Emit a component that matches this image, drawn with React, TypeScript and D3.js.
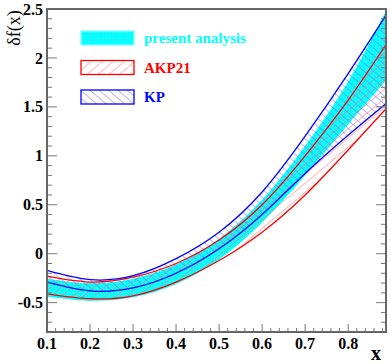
import * as d3 from "d3";

// sampled x positions
const xs = [0.1, 0.2, 0.3, 0.4, 0.5, 0.6, 0.7, 0.8, 0.89];

// present analysis band
const presentUp = [-0.255, -0.3, -0.255, -0.11, 0.15, 0.55, 1.1, 1.76, 2.5];
const presentLo = [-0.44, -0.48, -0.445, -0.31, -0.06, 0.32, 0.8, 1.32, 1.78];

// AKP21 band
const akpUp = [-0.23, -0.29, -0.24, -0.1, 0.14, 0.5, 1.0, 1.57, 2.15];
const akpLo = [-0.41, -0.46, -0.43, -0.29, -0.07, 0.22, 0.6, 1.06, 1.49];

// KP band
const kpUp = [-0.17, -0.265, -0.225, -0.05, 0.22, 0.63, 1.2, 1.84, 2.45];
const kpLo = [-0.29, -0.38, -0.35, -0.2, 0.05, 0.4, 0.82, 1.21, 1.54];

const xTicks = [0.1, 0.2, 0.3, 0.4, 0.5, 0.6, 0.7, 0.8];
const yTicks = [-0.5, 0, 0.5, 1, 1.5, 2, 2.5];

const legend = [
  { label: "present analysis", color: "#00ffff", fill: "url(#dots)", stroke: "#7fffff" },
  { label: "AKP21", color: "#ff0000", fill: "url(#hatchRed)", stroke: "#ff0000" },
  { label: "KP", color: "#0000ff", fill: "url(#hatchBlue)", stroke: "#0000ff" },
];

const W = 390;
const H = 364;
const left = 47;
const right = 386;
const top = 9;
const bottom = 332;

const x = d3.scaleLinear().domain([0.1, 0.888]).range([left, right]);
const y = d3.scaleLinear().domain([-0.8, 2.5]).range([bottom, top]);

const curve = d3.curveNatural;

const band = (up: number[], lo: number[]) =>
  d3
    .area<number>()
    .x((d) => x(xs[d]))
    .y0((d) => y(lo[d]))
    .y1((d) => y(up[d]))
    .curve(curve)(d3.range(xs.length)) || "";

const line = (v: number[]) =>
  d3
    .line<number>()
    .x((d) => x(xs[d]))
    .y((d) => y(v[d]))
    .curve(curve)(d3.range(xs.length)) || "";

const font = "'Liberation Serif', 'Times New Roman', serif";

const App = () => {
  const yMinor = d3.range(-0.8, 2.5001, 0.1).map((v) => Math.round(v * 10) / 10);
  const xMinor = d3.range(0.1, 0.8801, 0.02).map((v) => Math.round(v * 100) / 100);
  const isMajorY = (v: number) => Math.abs(v * 2 - Math.round(v * 2)) < 1e-6;
  const isMajorX = (v: number) => Math.abs(v * 10 - Math.round(v * 10)) < 1e-6;

  return (
    <svg width={W} height={H} style={{ position: "absolute", left: 0, top: 0 }}>
      <defs>
        <clipPath id="plot">
          <rect x={left} y={top} width={right - left} height={bottom - top} />
        </clipPath>
        <pattern id="dots" width={3} height={3} patternUnits="userSpaceOnUse">
          <rect width={3} height={3} fill="#00ffff" />
          <rect x={1} y={1} width={1} height={1} fill="#66e8e8" />
        </pattern>
        <pattern
          id="hatchRed"
          width={7}
          height={7}
          patternUnits="userSpaceOnUse"
          patternTransform="rotate(-40)"
        >
          <line x1={0} y1={0} x2={7} y2={0} stroke="#ff7070" strokeWidth={1} />
        </pattern>
        <pattern
          id="hatchBlue"
          width={6}
          height={6}
          patternUnits="userSpaceOnUse"
          patternTransform="rotate(40)"
        >
          <line x1={0} y1={0} x2={6} y2={0} stroke="#7070ff" strokeWidth={1} />
        </pattern>
      </defs>

      <g clipPath="url(#plot)">
        <path d={band(presentUp, presentLo)} fill="url(#dots)" />
        <path d={band(akpUp, akpLo)} fill="url(#hatchRed)" />
        <path d={band(kpUp, kpLo)} fill="url(#hatchBlue)" />
        <path d={line(akpUp)} fill="none" stroke="#ff0000" strokeWidth={1.3} />
        <path d={line(akpLo)} fill="none" stroke="#ff0000" strokeWidth={1.3} />
        <path d={line(kpUp)} fill="none" stroke="#0000ff" strokeWidth={1.3} />
        <path d={line(kpLo)} fill="none" stroke="#0000ff" strokeWidth={1.3} />
      </g>

      {/* ticks */}
      <g stroke="#777" strokeWidth={1}>
        {yMinor.map((v) => {
          const len = isMajorY(v) ? 10 : 5;
          return (
            <g key={"y" + v}>
              <line x1={left} x2={left + len} y1={y(v)} y2={y(v)} />
              <line x1={right} x2={right - len} y1={y(v)} y2={y(v)} />
            </g>
          );
        })}
        {xMinor.map((v) => {
          const len = isMajorX(v) ? 8 : 4;
          return <line key={"x" + v} x1={x(v)} x2={x(v)} y1={bottom} y2={bottom - len} />;
        })}
      </g>

      <rect
        x={left}
        y={top}
        width={right - left}
        height={bottom - top}
        fill="none"
        stroke="#666"
        strokeWidth={2}
      />

      {/* tick labels */}
      <g fontFamily={font} fontWeight="bold" fontSize={16} fill="#000">
        {yTicks.map((v) => (
          <text key={"yl" + v} x={43} y={y(v)} dy="0.35em" textAnchor="end">
            {v}
          </text>
        ))}
        {xTicks.map((v) => (
          <text key={"xl" + v} x={x(v)} y={349} textAnchor="middle">
            {v}
          </text>
        ))}
      </g>

      <text x={376} y={360} fontFamily={font} fontWeight="bold" fontSize={20} textAnchor="middle">
        x
      </text>
      <text
        transform="translate(20,28) rotate(-90)"
        fontFamily={font}
        fontSize={18}
        textAnchor="middle"
      >
        δf(x)
      </text>

      {/* legend */}
      {legend.map((l, i) => (
        <g key={l.label} transform={`translate(81,${31 + i * 29.5})`}>
          <rect width={53} height={14} fill={l.fill} stroke={l.stroke} strokeWidth={1.3} />
          <text
            x={63}
            y={12}
            fontFamily={font}
            fontWeight="bold"
            fontSize={15}
            fill={l.color}
          >
            {l.label}
          </text>
        </g>
      ))}
    </svg>
  );
};

export default App;
